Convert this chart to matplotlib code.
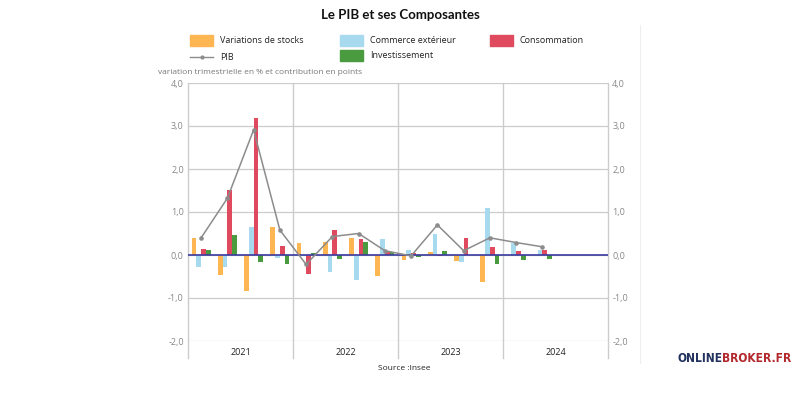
import matplotlib
matplotlib.use("Agg")
import matplotlib.pyplot as plt
import numpy as np
from matplotlib.lines import Line2D

plt.rcParams['font.family'] = ['Open Sans', 'DejaVu Sans']

years = ["2021", "2022", "2023", "2024"]
quarters = 16
stocks = [0.40, -0.46, -0.84, 0.66, 0.28, 0.30, 0.40, -0.49, -0.11, 0.07, -0.14, -0.62, -0.01, -0.01]
commerce = [-0.29, -0.28, 0.64, -0.06, -0.02, -0.40, -0.58, 0.37, 0.12, 0.50, -0.16, 1.10, 0.29, 0.12]
consommation = [0.14, 1.51, 3.18, 0.21, -0.44, 0.57, 0.37, 0.08, 0.04, -0.02, 0.40, 0.19, 0.09, 0.12]
investissement = [0.12, 0.47, -0.16, -0.21, 0.04, -0.10, 0.30, 0.08, -0.05, 0.10, 0.00, -0.22, -0.11, -0.09]
pib = [0.40, 1.32, 2.91, 0.58, -0.22, 0.43, 0.50, 0.10, -0.02, 0.70, 0.10, 0.40, 0.29, 0.19]
yticks = [-2.0, -1.0, 0.0, 1.0, 2.0, 3.0, 4.0]

c_stock = "#FDB651"
c_comm = "#A7DAEF"
c_cons = "#E04A5F"
c_inv = "#4A9A40"
c_pib = "#8C8C8C"

fig = plt.figure(figsize=(8, 4), dpi=100)
ax = fig.add_axes([188/800, 1-341/400, 420/800, 258/400])

n = len(pib)
x = np.arange(n)
w = 0.18
ax.bar(x - 0.27, stocks, w, color=c_stock, zorder=3)
ax.bar(x - 0.09, commerce, w, color=c_comm, zorder=3)
ax.bar(x + 0.09, consommation, w, color=c_cons, zorder=3)
ax.bar(x + 0.27, investissement, w, color=c_inv, zorder=3)
ax.plot(x, pib, color=c_pib, lw=1.1, marker='o', ms=2.3, zorder=5)

ax.axhline(0, color="#3a3aa0", lw=1.2, zorder=4)
ax.set_xlim(-0.5, quarters - 0.5)
ax.set_ylim(-2, 4)
ax.set_yticks(yticks)
ax.set_yticklabels([f"{v:.1f}".replace('.', ',') for v in yticks])
ax.tick_params(axis='y', labelsize=6.5, labelcolor="#888888", length=0, pad=3,
               left=True, right=True, labelleft=True, labelright=True)
ax.set_xticks([])
for yv in yticks:
    ax.axhline(yv, color="#cccccc", lw=0.9, zorder=1)
for s in ax.spines.values():
    s.set_visible(False)
for xv in [-0.5, 3.5, 7.5, 11.5, 15.5]:
    ax.plot([xv, xv], [-2.4, 4], color="#cccccc", lw=1.0, clip_on=False, zorder=1)
for i, yr in enumerate(years):
    ax.text(1.5 + 4*i, -2.27, yr, ha='center', va='center', fontsize=6.5, color="#222222")

fig.text(0.5, 0.962, "Le PIB et ses Composantes", ha='center', va='center',
         fontsize=9.5, fontweight='bold', color="#111111", family=['Lato', 'DejaVu Sans'])
fig.text(158/800, 1-72/400, "variation trimestrielle en % et contribution en points",
         ha='left', va='center', fontsize=6.0, color="#777777")
fig.text(404/800, 1-368/400, "Source :Insee", ha='center', va='center', fontsize=6.0, color="#222222")

def patch(x0, y0, color, label):
    fig.patches.append(plt.Rectangle((x0/800, 1-(y0+11)/400), 23/800, 11/400,
                                     transform=fig.transFigure, color=color))
    fig.text((x0+30)/800, 1-(y0+5.5)/400, label, ha='left', va='center', fontsize=6.5, color="#222222")

patch(190, 35, c_stock, "Variations de stocks")
patch(340, 35, c_comm, "Commerce extérieur")
patch(490, 35, c_cons, "Consommation")
patch(340, 50, c_inv, "Investissement")
fig.add_artist(Line2D([190/800, 213/800], [1-57/400, 1-57/400], color=c_pib, lw=1,
                      transform=fig.transFigure))
fig.add_artist(Line2D([201.5/800], [1-57/400], color=c_pib, marker='o', ms=2,
                      transform=fig.transFigure))
fig.text(220/800, 1-57/400, "PIB", ha='left', va='center', fontsize=6.5, color="#222222")

fig.add_artist(Line2D([640/800, 640/800], [1-25/400, 1-363/400], color="#eeeeee", lw=0.8,
                      transform=fig.transFigure))

# logo, sized to fit 677..790 px
logo_font = dict(fontweight='bold', family=['DejaVu Sans'], fontstretch='condensed')
fs = 10.0
t1 = fig.text(677/800, 1-358/400, "ONLINE", ha='left', va='center', fontsize=fs,
              color="#23335f", **logo_font)
t2 = fig.text(0, 1-358/400, "BROKER.FR", ha='left', va='center', fontsize=fs,
              color="#b3282d", **logo_font)
r = fig.canvas.get_renderer()
w1 = t1.get_window_extent(r).width
w2 = t2.get_window_extent(r).width
scale = 113.0 / (w1 + w2)
t1.set_fontsize(fs * scale)
t2.set_fontsize(fs * scale)
w1 = t1.get_window_extent(r).width
t2.set_x((677 + w1) / 800)

fig.savefig("out.png", dpi=100, facecolor='white')
